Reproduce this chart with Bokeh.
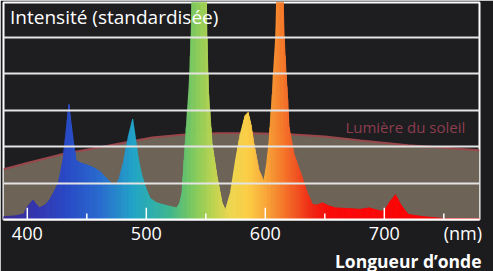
import numpy as np
from bokeh.plotting import figure
from bokeh.models import Label, FixedTicker, Range1d, LinearAxis, Grid, Title
from bokeh.embed import file_html
from bokeh.resources import INLINE

# ---- data ----
wavelength = [380, 390, 397, 400, 404.7, 410, 415, 419, 423, 426, 430, 432.9, 435, 437, 439, 441,
              445, 450, 456, 461, 466, 470, 474, 477, 481, 485, 488.5, 491, 493.5, 496, 499, 503,
              508, 514, 520, 525.5, 528, 530, 532.7, 535.5, 536.5, 537.6, 538.4, 545, 550.5, 551,
              551.8, 552.4, 555.3, 559.5, 563.7, 566.5, 570.7, 575, 579, 583, 585.6, 588, 590.4,
              594.6, 598.8, 601, 603, 605.9, 606.8, 608.7, 609.5, 612, 615, 615.9, 617.5, 618.8,
              620, 624, 629.8, 635.4, 639.7, 644, 648, 653, 659, 670, 680, 687, 694, 697, 700,
              705, 709.4, 714, 720, 732, 749, 780]
intensity = [0.08, 0.1, 0.15, 0.35, 0.53, 0.32, 0.4, 0.55, 0.8, 1.0, 1.63, 2.53, 3.16, 2.6, 2.08, 1.63,
             1.55, 1.5, 1.42, 1.32, 1.15, 1.02, 0.95, 1.1, 1.6, 2.3, 2.76, 2.2, 1.63, 1.25, 0.92, 0.59,
             0.47, 0.41, 0.36, 0.32, 0.45, 0.73, 2.08, 3.43, 4.0, 5.0, 6.0, 8.5, 6.0, 5.0,
             4.0, 3.43, 2.08, 1.18, 0.46, 0.26, 0.73, 1.63, 2.35, 2.85, 2.94, 2.6, 2.08,
             1.36, 1.05, 1.5, 2.08, 3.43, 4.0, 5.0, 6.0, 8.5, 6.0, 5.0, 4.0, 3.3,
             2.54, 1.81, 1.27, 0.73, 0.41, 0.4, 0.46, 0.38, 0.32, 0.3, 0.28, 0.32, 0.26, 0.23, 0.25,
             0.5, 0.68, 0.4, 0.14, 0.08, 0.03, 0.02]

sun_wavelength = [380, 400, 430, 460, 480, 505, 530, 560, 590, 620, 650, 680, 720, 750, 780]
sun_intensity = [1.38, 1.55, 1.8, 1.98, 2.1, 2.25, 2.33, 2.37, 2.37, 2.34, 2.28, 2.17, 2.04, 1.97, 1.9]

color_stop_nm = [380, 410, 435, 460, 480, 490, 505, 520, 535, 545, 558, 570, 585, 598, 610, 625, 640, 655, 780]
color_stop_hex = ["#3b2d92", "#3438b4", "#2a4cc8", "#2a6ad0", "#2592cc", "#22a6c8", "#2fb0b0",
                  "#40b890", "#6ec668", "#94d05a", "#c4d652", "#eed850", "#fdd048", "#fbb03c",
                  "#f88a30", "#f45a25", "#f22614", "#fc0a0a", "#ff0000"]

major_ticks = [400, 500, 600, 700]
minor_ticks = [450, 550, 650, 750]
tick_labels = {400: "400", 500: "500", 600: "600", 700: "700", 766: "(nm)"}
y_grid_ticks = [1, 2, 3, 4, 5]

Y_TOP = 5.96

# ---- figure ----
p = figure(width=493, height=271, x_range=Range1d(380, 780), y_range=Range1d(0, Y_TOP),
           output_backend="svg", toolbar_location=None,
           x_axis_location=None, y_axis_location=None,
           min_border_left=3, min_border_right=14, min_border_top=2, min_border_bottom=49)
for g in p.grid:
    g.visible = False
p.background_fill_color = "#1e1d20"
p.border_fill_color = "#1c1b1e"
p.outline_line_color = "white"
p.outline_line_width = 2

# sunlight
p.varea(x=sun_wavelength, y1=0, y2=sun_intensity, fill_color="#6d6457")
p.line(x=sun_wavelength, y=sun_intensity, line_color="#9a474c", line_width=2)

# spectrum: each trapezoid between read points, split for the colour gradient
stop_rgb = np.array([[int(h[i:i + 2], 16) for i in (1, 3, 5)] for h in color_stop_hex], dtype=float)
xs, ys, cols = [], [], []
for i in range(len(wavelength) - 1):
    x0, x1 = wavelength[i], wavelength[i + 1]
    y0, y1 = intensity[i], intensity[i + 1]
    n = max(1, int(np.ceil((x1 - x0) / 1.0)))
    for k in range(n):
        fa, fb = k / n, (k + 1) / n
        xa, xb = x0 + (x1 - x0) * fa, x0 + (x1 - x0) * fb
        ya, yb = y0 + (y1 - y0) * fa, y0 + (y1 - y0) * fb
        mid = 0.5 * (xa + xb)
        rgb = [int(round(np.interp(mid, color_stop_nm, stop_rgb[:, c]))) for c in range(3)]
        xs.append([xa, xb, xb, xa])
        ys.append([0, 0, yb, ya])
        cols.append("#%02x%02x%02x" % tuple(rgb))
p.patches(xs=xs, ys=ys, fill_color=cols, line_color=cols, line_width=0.8)

# grid lines on top
grid = Grid(dimension=1, ticker=FixedTicker(ticks=y_grid_ticks), level="overlay",
            grid_line_color="#e4e4e4", grid_line_width=1.8)
p.add_layout(grid)

# tick marks (inside the frame, pointing up)
px_per_unit = 220 / Y_TOP
p.segment(x0=major_ticks, y0=0, x1=major_ticks, y1=12 / px_per_unit, line_color="white", line_width=1.5)
p.segment(x0=minor_ticks, y0=0, x1=minor_ticks, y1=6 / px_per_unit, line_color="white", line_width=1.5)

# x axis (tick labels)
xaxis = LinearAxis(ticker=FixedTicker(ticks=list(tick_labels.keys())))
xaxis.major_label_overrides = tick_labels
xaxis.major_tick_line_color = None
xaxis.minor_tick_line_color = None
xaxis.major_tick_in = 0
xaxis.major_tick_out = 0
xaxis.axis_line_color = "white"
xaxis.axis_line_width = 2
xaxis.major_label_text_color = "white"
xaxis.major_label_text_font = "Open Sans"
xaxis.major_label_text_font_size = "18px"
xaxis.major_label_standoff = 1
p.add_layout(xaxis, "below")

# axis title, right-aligned under the axis
p.add_layout(Title(text="Longueur d’onde", align="right", text_color="white",
                   text_font="Open Sans", text_font_size="17.5px", text_font_style="bold",
                   standoff=-2, offset=-2), "below")

# texts inside the frame
p.add_layout(Label(x=385.5, y=5.55, text="Intensité (standardisée)", text_color="white",
                   text_font="Open Sans", text_font_size="19px", text_baseline="middle"))
p.add_layout(Label(x=768, y=2.55, text="Lumière du soleil", text_color="#8c3e4e",
                   text_font="Open Sans", text_font_size="15px", text_baseline="middle",
                   text_align="right"))

open("out.html", "w").write(file_html(p, INLINE))
